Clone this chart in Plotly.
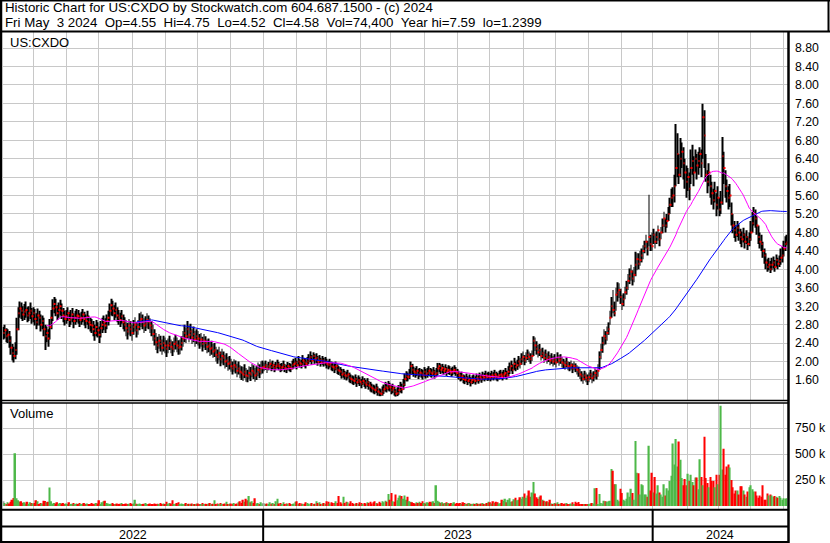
import pandas as pd
import plotly.graph_objects as go

# ---------------- data ----------------
LAST_DATE = "2024-05-03"
SYMBOL = "US:CXDO"
HEADER_LINE1 = "Historic Chart for US:CXDO by Stockwatch.com 604.687.1500 - (c) 2024"
HEADER_LINE2 = "Fri May  3 2024  Op=4.55  Hi=4.75  Lo=4.52  Cl=4.58  Vol=74,400  Year hi=7.59  lo=1.2399"

CLOSE = [
    2.62, 2.68, 2.55, 2.58, 2.45, 2.30, 2.18, 2.12, 2.25, 2.70,
    3.05, 3.15, 3.10, 3.02, 3.08, 3.12, 3.00, 3.05, 3.10, 2.98,
    3.05, 2.92, 2.85, 3.00, 2.95, 2.80, 2.88, 2.70, 2.55, 2.62,
    2.50, 2.75, 2.95, 3.15, 3.25, 3.18, 3.05, 3.12, 3.20, 3.10,
    3.00, 2.92, 2.98, 3.05, 2.90, 2.95, 3.02, 2.88, 2.95, 3.00,
    2.98, 2.90, 2.95, 3.02, 2.92, 2.88, 2.96, 2.85, 2.80, 2.78,
    2.70, 2.62, 2.75, 2.68, 2.58, 2.72, 2.80, 2.85, 2.78, 2.88,
    2.95, 3.10, 3.22, 3.15, 3.05, 3.12, 3.00, 2.95, 2.90, 2.98,
    2.85, 2.80, 2.72, 2.65, 2.78, 2.70, 2.62, 2.75, 2.80, 2.68,
    2.75, 2.88, 2.92, 2.85, 2.78, 2.82, 2.90, 2.85, 2.78, 2.72,
    2.60, 2.50, 2.42, 2.35, 2.45, 2.38, 2.30, 2.40, 2.35, 2.28,
    2.35, 2.40, 2.32, 2.28, 2.38, 2.42, 2.35, 2.30, 2.32, 2.40,
    2.50, 2.62, 2.55, 2.70, 2.58, 2.65, 2.52, 2.60, 2.48, 2.55,
    2.50, 2.42, 2.48, 2.38, 2.45, 2.40, 2.32, 2.35, 2.28, 2.30,
    2.22, 2.25, 2.15, 2.10, 2.18, 2.05, 2.12, 2.08, 2.00, 2.02,
    1.95, 1.98, 1.90, 1.85, 1.92, 1.88, 1.80, 1.85, 1.78, 1.75,
    1.72, 1.78, 1.70, 1.68, 1.75, 1.72, 1.80, 1.76, 1.70, 1.74, 1.82, 1.78, 1.85, 1.88,
    1.88, 1.92, 1.85, 1.90, 1.95, 1.88, 1.92, 1.86, 1.90, 1.94,
    1.90, 1.85, 1.88, 1.92, 1.86, 1.84, 1.90, 1.88, 1.85, 1.92,
    1.95, 1.98, 1.92, 2.00, 1.96, 1.94, 2.02, 1.98, 1.95, 2.00,
    2.05, 2.10, 2.02, 2.12, 2.05, 2.08, 2.00, 2.04, 1.98, 2.02,
    1.98, 2.00, 1.95, 1.92, 1.96, 1.90, 1.88, 1.85, 1.90, 1.82,
    1.80, 1.78, 1.72, 1.75, 1.70, 1.68, 1.72, 1.65, 1.62, 1.60,
    1.58, 1.62, 1.55, 1.60, 1.56, 1.52, 1.58, 1.54, 1.50, 1.55,
    1.48, 1.45, 1.42, 1.40, 1.38, 1.42, 1.35, 1.32, 1.30, 1.35,
    1.40, 1.45, 1.42, 1.48, 1.44, 1.38, 1.42, 1.35, 1.30, 1.32,
    1.38, 1.45, 1.40, 1.50, 1.62, 1.68, 1.66, 1.72, 1.90, 1.82,
    1.78, 1.75, 1.80, 1.72, 1.76, 1.74, 1.70, 1.78, 1.72, 1.75,
    1.80, 1.76, 1.74, 1.78, 1.72, 1.75, 1.85, 1.90, 1.82, 1.86,
    1.80, 1.84, 1.78, 1.82, 1.80, 1.76, 1.79, 1.82, 1.78, 1.75,
    1.70, 1.65, 1.68, 1.62, 1.60, 1.64, 1.58, 1.62, 1.55, 1.60,
    1.62, 1.58, 1.64, 1.60, 1.66, 1.62, 1.68, 1.65, 1.70, 1.66,
    1.68, 1.65, 1.70, 1.67, 1.72, 1.68, 1.65, 1.70, 1.72, 1.68,
    1.72, 1.75, 1.70, 1.78, 1.85, 1.90, 1.82, 1.95, 1.88, 1.92,
    2.00, 1.95, 2.05, 2.10, 2.02, 2.08, 2.15, 2.10, 2.05, 2.12,
    2.45, 2.35, 2.28, 2.20, 2.25, 2.12, 2.18, 2.08, 2.15, 2.05,
    2.10, 2.02, 2.06, 2.00, 2.04, 1.98, 2.08, 2.02, 2.05, 1.98,
    1.95, 1.92, 1.98, 1.90, 1.88, 1.92, 1.85, 1.90, 1.86, 1.82,
    1.78, 1.72, 1.68, 1.62, 1.70, 1.65, 1.60, 1.66, 1.72, 1.64,
    1.68, 1.75, 1.70, 1.80, 2.10, 2.25, 2.40, 2.55, 2.50, 2.62,
    2.70, 2.95, 3.20, 3.12, 3.05, 3.45, 3.50, 3.55, 3.40, 3.25,
    3.35, 3.50, 3.60, 3.75, 3.85, 3.95, 3.80, 3.88, 4.10, 4.22,
    4.12, 4.20, 4.30, 4.40, 4.50, 4.60, 4.45, 4.70, 4.55, 4.50,
    4.75, 4.60, 4.70, 4.85, 4.65, 4.80, 4.95, 5.10, 4.95, 5.05,
    5.20, 5.40, 5.55, 5.60, 5.80, 6.20, 6.50, 6.05, 6.40, 6.55,
    6.30, 6.10, 5.90, 6.00, 5.75, 6.20, 6.35, 6.10, 6.40, 6.25,
    6.35, 6.50, 6.30, 7.30, 6.90, 6.05, 5.90, 6.10, 5.80, 5.65,
    5.50, 5.70, 5.40, 5.55, 5.30, 5.45, 6.45, 6.20, 5.80, 5.70,
    5.55, 5.60, 5.20, 4.95, 4.85, 4.75, 4.90, 4.80, 4.70, 4.65,
    4.75, 4.60, 4.70, 4.55, 4.65, 4.80, 5.00, 5.20, 5.10, 4.95,
    4.70, 4.60, 4.55, 4.40, 4.30, 4.15, 4.05, 4.10, 4.00, 4.10,
    4.15, 4.05, 4.20, 4.12, 4.18, 4.25, 4.30, 4.45, 4.55, 4.58,
]

HIGH = [
    2.75, 2.80, 2.72, 2.70, 2.66, 2.55, 2.38, 2.32, 2.42, 2.95,
    3.18, 3.30, 3.28, 3.20, 3.25, 3.30, 3.18, 3.20, 3.28, 3.16,
    3.18, 3.14, 3.05, 3.15, 3.10, 3.02, 3.00, 2.95, 2.80, 2.76,
    2.70, 2.92, 3.12, 3.35, 3.40, 3.36, 3.22, 3.28, 3.34, 3.26,
    3.16, 3.10, 3.12, 3.18, 3.08, 3.12, 3.16, 3.05, 3.10, 3.14,
    3.12, 3.05, 3.08, 3.14, 3.08, 3.02, 3.10, 3.00, 2.95, 2.92,
    2.88, 2.80, 2.90, 2.85, 2.76, 2.88, 2.95, 3.00, 2.94, 3.02,
    3.10, 3.26, 3.36, 3.32, 3.22, 3.28, 3.18, 3.12, 3.06, 3.12,
    3.02, 2.96, 2.90, 2.84, 2.92, 2.88, 2.80, 2.90, 2.96, 2.86,
    2.90, 3.05, 3.08, 3.02, 2.94, 2.98, 3.05, 3.00, 2.94, 2.88,
    2.80, 2.70, 2.62, 2.54, 2.60, 2.56, 2.48, 2.56, 2.52, 2.46,
    2.50, 2.56, 2.48, 2.44, 2.52, 2.58, 2.52, 2.46, 2.48, 2.55,
    2.66, 2.80, 2.74, 2.88, 2.78, 2.82, 2.70, 2.76, 2.66, 2.70,
    2.66, 2.60, 2.62, 2.54, 2.60, 2.55, 2.48, 2.50, 2.44, 2.45,
    2.38, 2.40, 2.32, 2.26, 2.32, 2.22, 2.28, 2.22, 2.15, 2.18,
    2.10, 2.12, 2.06, 2.00, 2.05, 2.02, 1.95, 2.00, 1.92, 1.90,
    1.88, 1.94, 1.86, 1.82, 1.90, 1.88, 1.95, 1.92, 1.86, 1.90, 1.98, 1.94, 2.00, 2.02,
    1.98, 2.02, 1.95, 1.99, 2.05, 1.98, 2.02, 1.95, 1.99, 2.04,
    1.99, 1.95, 1.97, 2.02, 1.95, 1.93, 1.99, 1.97, 1.95, 2.02,
    2.06, 2.08, 2.02, 2.12, 2.05, 2.04, 2.14, 2.08, 2.05, 2.10,
    2.16, 2.22, 2.14, 2.20, 2.16, 2.18, 2.12, 2.14, 2.08, 2.12,
    2.08, 2.10, 2.06, 2.02, 2.06, 2.00, 1.98, 1.96, 2.00, 1.94,
    1.90, 1.88, 1.84, 1.84, 1.80, 1.78, 1.82, 1.76, 1.72, 1.70,
    1.68, 1.72, 1.66, 1.70, 1.66, 1.62, 1.68, 1.64, 1.60, 1.64,
    1.58, 1.56, 1.52, 1.50, 1.48, 1.52, 1.46, 1.42, 1.40, 1.46,
    1.50, 1.56, 1.52, 1.58, 1.54, 1.49, 1.52, 1.46, 1.40, 1.44,
    1.49, 1.56, 1.52, 1.62, 1.74, 1.79, 1.76, 1.84, 2.00, 1.95,
    1.89, 1.86, 1.90, 1.84, 1.86, 1.84, 1.82, 1.88, 1.84, 1.86,
    1.90, 1.86, 1.84, 1.88, 1.82, 1.86, 1.97, 1.97, 1.94, 1.95,
    1.90, 1.94, 1.88, 1.92, 1.90, 1.86, 1.89, 1.92, 1.88, 1.84,
    1.80, 1.76, 1.78, 1.72, 1.70, 1.74, 1.68, 1.72, 1.66, 1.70,
    1.72, 1.68, 1.74, 1.70, 1.76, 1.72, 1.78, 1.75, 1.80, 1.76,
    1.78, 1.75, 1.80, 1.77, 1.82, 1.78, 1.75, 1.80, 1.82, 1.78,
    1.82, 1.86, 1.80, 1.90, 1.98, 2.02, 1.94, 2.08, 2.00, 2.04,
    2.12, 2.08, 2.18, 2.22, 2.14, 2.20, 2.26, 2.22, 2.18, 2.24,
    2.55, 2.52, 2.44, 2.36, 2.38, 2.28, 2.30, 2.22, 2.26, 2.18,
    2.22, 2.14, 2.18, 2.12, 2.16, 2.10, 2.20, 2.14, 2.16, 2.10,
    2.06, 2.02, 2.09, 2.00, 1.99, 2.02, 1.96, 2.00, 1.96, 1.92,
    1.89, 1.84, 1.79, 1.74, 1.80, 1.76, 1.72, 1.76, 1.82, 1.76,
    1.79, 1.86, 1.82, 1.94, 2.22, 2.38, 2.54, 2.70, 2.66, 2.76,
    2.85, 3.10, 3.40, 3.55, 3.30, 3.60, 3.72, 3.70, 3.58, 3.45,
    3.48, 3.62, 3.75, 3.90, 4.02, 4.10, 3.98, 4.05, 4.38, 4.35,
    4.35, 4.40, 4.45, 4.52, 4.62, 4.75, 4.62, 5.62, 4.75, 4.80,
    4.88, 4.78, 4.82, 4.95, 4.80, 4.92, 5.10, 5.25, 5.10, 5.20,
    5.35, 5.55, 5.75, 5.78, 6.05, 7.15, 6.95, 6.50, 6.85, 6.75,
    6.65, 6.40, 6.25, 6.20, 6.10, 6.60, 6.70, 6.45, 6.60, 6.50,
    6.55, 6.65, 6.60, 7.59, 7.45, 6.50, 6.15, 6.30, 6.05, 5.90,
    5.75, 5.90, 5.65, 5.80, 5.55, 5.70, 6.87, 6.55, 6.15, 5.95,
    5.80, 5.85, 5.45, 5.20, 5.05, 4.95, 5.05, 4.98, 4.88, 4.82,
    4.90, 4.78, 4.85, 4.72, 4.80, 5.05, 5.25, 5.35, 5.30, 5.15,
    4.95, 4.80, 4.75, 4.60, 4.45, 4.35, 4.22, 4.25, 4.18, 4.25,
    4.28, 4.20, 4.32, 4.25, 4.30, 4.45, 4.50, 4.62, 4.72, 4.75,
]

LOW = [
    2.48, 2.50, 2.42, 2.40, 2.30, 2.15, 2.02, 1.98, 2.05, 2.15,
    2.68, 2.95, 2.92, 2.88, 2.90, 2.95, 2.85, 2.88, 2.92, 2.82,
    2.85, 2.78, 2.70, 2.78, 2.78, 2.65, 2.70, 2.55, 2.25, 2.42,
    2.32, 2.48, 2.70, 2.88, 3.05, 2.98, 2.90, 2.95, 3.00, 2.92,
    2.85, 2.78, 2.82, 2.88, 2.75, 2.80, 2.85, 2.72, 2.80, 2.85,
    2.82, 2.75, 2.80, 2.85, 2.78, 2.72, 2.80, 2.70, 2.65, 2.62,
    2.55, 2.45, 2.55, 2.52, 2.40, 2.52, 2.62, 2.68, 2.62, 2.70,
    2.78, 2.88, 3.00, 2.98, 2.90, 2.95, 2.85, 2.80, 2.75, 2.82,
    2.70, 2.65, 2.55, 2.48, 2.58, 2.55, 2.45, 2.58, 2.65, 2.52,
    2.58, 2.68, 2.75, 2.70, 2.62, 2.66, 2.72, 2.70, 2.62, 2.55,
    2.45, 2.35, 2.25, 2.18, 2.28, 2.22, 2.15, 2.22, 2.18, 2.10,
    2.18, 2.25, 2.18, 2.12, 2.20, 2.26, 2.20, 2.15, 2.16, 2.24,
    2.32, 2.42, 2.40, 2.50, 2.42, 2.48, 2.38, 2.42, 2.32, 2.38,
    2.35, 2.28, 2.32, 2.22, 2.30, 2.25, 2.18, 2.20, 2.12, 2.15,
    2.08, 2.10, 2.00, 1.95, 2.02, 1.90, 1.96, 1.92, 1.85, 1.88,
    1.80, 1.83, 1.78, 1.72, 1.78, 1.74, 1.66, 1.72, 1.64, 1.60,
    1.58, 1.64, 1.56, 1.55, 1.62, 1.58, 1.66, 1.62, 1.56, 1.60, 1.68, 1.64, 1.72, 1.74,
    1.79, 1.82, 1.75, 1.81, 1.85, 1.79, 1.83, 1.77, 1.81, 1.85,
    1.81, 1.77, 1.79, 1.83, 1.77, 1.75, 1.81, 1.79, 1.77, 1.83,
    1.85, 1.89, 1.83, 1.91, 1.87, 1.85, 1.92, 1.89, 1.85, 1.91,
    1.95, 1.99, 1.93, 2.01, 1.95, 1.97, 1.91, 1.95, 1.89, 1.93,
    1.89, 1.91, 1.85, 1.83, 1.87, 1.81, 1.79, 1.75, 1.81, 1.73,
    1.71, 1.69, 1.63, 1.65, 1.61, 1.59, 1.63, 1.55, 1.53, 1.51,
    1.49, 1.52, 1.45, 1.51, 1.47, 1.42, 1.49, 1.45, 1.41, 1.45,
    1.39, 1.35, 1.33, 1.31, 1.29, 1.32, 1.26, 1.25, 1.25, 1.26,
    1.30, 1.35, 1.33, 1.37, 1.35, 1.29, 1.32, 1.26, 1.24, 1.25,
    1.28, 1.33, 1.31, 1.39, 1.47, 1.57, 1.57, 1.62, 1.72, 1.73,
    1.67, 1.65, 1.69, 1.62, 1.67, 1.65, 1.61, 1.67, 1.63, 1.65,
    1.69, 1.67, 1.65, 1.69, 1.63, 1.67, 1.71, 1.77, 1.73, 1.75,
    1.71, 1.74, 1.69, 1.73, 1.71, 1.67, 1.70, 1.73, 1.69, 1.65,
    1.61, 1.57, 1.59, 1.53, 1.51, 1.55, 1.49, 1.53, 1.46, 1.51,
    1.53, 1.50, 1.55, 1.52, 1.57, 1.54, 1.59, 1.57, 1.61, 1.58,
    1.59, 1.57, 1.61, 1.59, 1.63, 1.59, 1.57, 1.61, 1.63, 1.59,
    1.63, 1.65, 1.61, 1.67, 1.73, 1.79, 1.73, 1.82, 1.79, 1.82,
    1.89, 1.85, 1.93, 1.99, 1.92, 1.97, 2.03, 1.99, 1.95, 2.01,
    2.12, 2.23, 2.15, 2.09, 2.12, 2.02, 2.07, 1.97, 2.03, 1.95,
    1.99, 1.92, 1.95, 1.89, 1.93, 1.87, 1.97, 1.91, 1.95, 1.87,
    1.85, 1.82, 1.87, 1.81, 1.79, 1.82, 1.75, 1.81, 1.77, 1.72,
    1.67, 1.62, 1.57, 1.52, 1.59, 1.55, 1.49, 1.55, 1.61, 1.53,
    1.57, 1.63, 1.61, 1.67, 1.82, 2.05, 2.19, 2.35, 2.37, 2.45,
    2.58, 2.80, 2.95, 3.05, 2.98, 3.10, 3.30, 3.38, 3.25, 3.12,
    3.20, 3.35, 3.45, 3.55, 3.68, 3.75, 3.65, 3.72, 3.85, 3.98,
    4.00, 4.08, 4.15, 4.22, 4.35, 4.45, 4.30, 4.50, 4.40, 4.40,
    4.55, 4.45, 4.55, 4.62, 4.50, 4.65, 4.78, 4.92, 4.80, 4.90,
    5.05, 5.20, 5.35, 5.35, 5.45, 5.80, 6.00, 5.85, 6.00, 6.20,
    5.95, 5.75, 5.55, 5.70, 5.50, 5.85, 6.05, 5.80, 6.10, 5.95,
    6.05, 6.20, 6.00, 6.40, 6.20, 5.90, 5.65, 5.80, 5.55, 5.40,
    5.30, 5.45, 5.15, 5.30, 5.15, 5.20, 5.40, 5.85, 5.55, 5.45,
    5.30, 5.35, 4.95, 4.78, 4.68, 4.60, 4.70, 4.62, 4.55, 4.48,
    4.58, 4.45, 4.55, 4.42, 4.50, 4.62, 4.80, 4.95, 4.90, 4.75,
    4.55, 4.45, 4.40, 4.25, 4.12, 4.00, 3.95, 3.98, 3.92, 3.98,
    4.02, 3.95, 4.05, 4.00, 4.05, 4.10, 4.15, 4.28, 4.40, 4.52,
]

VOLUME_K = [
    45, 30, 20, 35, 25, 40, 60, 77, 508, 75,
    55, 40, 45, 30, 35, 25, 40, 20, 35, 30,
    25, 30, 55, 45, 20, 30, 25, 50, 48, 35,
    40, 177, 45, 20, 30, 25, 35, 18, 28, 22,
    30, 15, 25, 20, 35, 18, 22, 30, 15, 25,
    20, 28, 15, 22, 30, 18, 25, 20, 15, 28,
    22, 18, 30, 25, 55, 20, 35, 45, 50, 30,
    25, 18, 22, 30, 15, 20, 25, 18, 22, 28,
    20, 15, 25, 18, 22, 30, 20, 25, 60, 22,
    18, 25, 20, 15, 22, 28, 18, 20, 25, 15,
    20, 25, 18, 22, 15, 30, 20, 25, 18, 40,
    22, 30, 25, 55, 18, 22, 30, 35, 20, 25,
    15, 20, 28, 18, 22, 15, 25, 20, 18, 22,
    25, 18, 20, 28, 15, 22, 20, 25, 30, 18,
    22, 55, 20, 25, 18, 30, 22, 20, 25, 40,
    18, 22, 25, 20, 30, 18, 25, 35, 45, 30,
    60, 40, 70, 55, 95, 35, 45, 30, 75, 25, 30, 20, 35, 25,
    30, 20, 25, 18, 35, 22, 28, 20, 45, 70,
    25, 30, 20, 35, 18, 25, 22, 30, 15, 20,
    25, 40, 45, 20, 30, 25, 18, 22, 35, 28,
    20, 25, 30, 18, 22, 45, 28, 35, 20, 25,
    30, 22, 45, 40, 25, 35, 30, 28, 45, 30,
    95, 35, 25, 90, 30, 40, 35, 25, 45, 30,
    20, 25, 30, 22, 35, 28, 20, 30, 25, 35,
    30, 40, 25, 35, 45, 30, 25, 40, 30, 45,
    35, 50, 40, 115, 60, 125, 45, 40, 110, 55,
    80, 100, 95, 70, 100, 60, 90, 45, 40, 35,
    30, 25, 35, 28, 40, 30, 45, 30, 25, 35,
    30, 40, 35, 45, 30, 200, 50, 40, 30, 35,
    25, 30, 35, 28, 22, 30, 25, 35, 20, 28,
    25, 30, 22, 35, 28, 20, 25, 30, 22, 18,
    25, 20, 30, 22, 18, 25, 28, 20, 22, 30,
    40, 35, 25, 45, 30, 40, 35, 25, 30, 60,
    50, 70, 35, 60, 75, 40, 45, 65, 80, 55,
    60, 85, 70, 90, 120, 80, 100, 150, 90, 130,
    230, 120, 85, 70, 90, 100, 60, 50, 40, 45,
    35, 60, 25, 20, 30, 25, 35, 20, 25, 30,
    20, 25, 30, 20, 18, 25, 35, 20, 40, 30,
    38, 20, 15, 10, 12, 15, 20, 18, 25, 30,
    25, 170, 172, 20, 115, 30, 25, 50, 45, 40,
    45, 50, 355, 340, 210, 210, 60, 45, 165, 125,
    60, 50, 70, 130, 90, 165, 125, 60, 625, 320,
    315, 110, 210, 200, 110, 110, 90, 580, 150, 320,
    130, 280, 120, 200, 130, 110, 90, 210, 100, 170,
    150, 240, 290, 600, 400, 645, 380, 620, 445, 270,
    200, 260, 200, 310, 240, 300, 230, 200, 275, 275,
    160, 450, 280, 200, 665, 270, 220, 180, 280, 240,
    240, 180, 300, 210, 300, 965, 350, 550, 300, 380,
    400, 370, 250, 180, 120, 150, 150, 110, 190, 190,
    150, 110, 90, 140, 180, 200, 160, 140, 140, 100,
    80, 100, 90, 200, 60, 60, 120, 100, 110, 100,
    90, 95, 90, 80, 95, 80, 60, 75, 70, 74.4,
]

PRICE_TICKS = [1.60, 2.00, 2.40, 2.80, 3.20, 3.60, 4.00, 4.40, 4.80, 5.20,
               5.60, 6.00, 6.40, 6.80, 7.20, 7.60, 8.00, 8.40, 8.80]
VOLUME_TICKS = [250000, 500000, 750000]
VOLUME_TICK_TEXT = ["250 k", "500 k", "750 k"]
MA_SHORT, MA_LONG = 30, 90

# ---------------- derived ----------------
N = len(CLOSE)
dates = pd.bdate_range(end=LAST_DATE, periods=N)
idx = list(range(N))
s = pd.Series(CLOSE)
ma_s = s.rolling(MA_SHORT).mean()
ma_l = s.rolling(MA_LONG).mean()
prev = s.shift(1)
GREEN, RED, GREY = "#4DB848", "#FF0000", "#A0A0A0"
vcolors = []
for c, p in zip(CLOSE, prev):
    if pd.isna(p) or c == p:
        vcolors.append(GREY)
    elif c > p:
        vcolors.append(GREEN)
    else:
        vcolors.append(RED)

month_starts = [i for i in range(1, N) if dates[i].month != dates[i - 1].month]
year_starts = [i for i in range(1, N) if dates[i].year != dates[i - 1].year]
year_bounds = [-0.5] + [y - 0.5 for y in year_starts] + [N - 0.5]
year_names = [str(dates[0].year)] + [str(dates[y].year) for y in year_starts]

W, H = 830, 543
def px(x):
    return x / W
def py(y):
    return 1 - y / H

FONT = "Arial, 'Liberation Sans', sans-serif"
GRID = "#C8C8C8"

Y_LO, Y_HI = 1.166, 9.147
TICK_H = 2.0 * (Y_HI - Y_LO) / 368.0   # close mark ~2 px tall

fig = go.Figure()
# high-low bars
fig.add_trace(go.Bar(
    x=idx, y=[h - l for h, l in zip(HIGH, LOW)], base=LOW, width=0.55,
    marker=dict(color="black", line=dict(width=0)),
    xaxis="x", yaxis="y", hoverinfo="skip"))
# close marks (small red ticks at the right side of each bar)
fig.add_trace(go.Bar(
    x=idx, y=[TICK_H] * N, base=[c - TICK_H / 2 for c in CLOSE], width=0.4, offset=0.2,
    marker=dict(color="#FF0000", line=dict(width=0)),
    xaxis="x", yaxis="y", hoverinfo="skip"))
fig.add_trace(go.Scatter(
    x=idx, y=ma_l, mode="lines", line=dict(color="#0000FF", width=1),
    xaxis="x", yaxis="y", hoverinfo="skip"))
fig.add_trace(go.Scatter(
    x=idx, y=ma_s, mode="lines", line=dict(color="#FF00FF", width=1),
    xaxis="x", yaxis="y", hoverinfo="skip"))
fig.add_trace(go.Bar(
    x=idx, y=[v * 1000 for v in VOLUME_K], width=1.0,
    marker=dict(color=vcolors, line=dict(width=0)),
    xaxis="x2", yaxis="y2", hoverinfo="skip"))

x_dom = [px(2.5), px(787.5)]
x_rng = [-0.5, N - 0.5]
xcommon = dict(domain=x_dom, range=x_rng, tickvals=[m - 0.5 for m in month_starts],
               showticklabels=False, ticks="", showgrid=True, gridcolor=GRID, gridwidth=1,
               zeroline=False, showline=False, fixedrange=True)
ycommon = dict(side="right", showgrid=True, gridcolor=GRID, gridwidth=1, zeroline=False,
               showline=False, ticks="outside", ticklen=4, tickcolor="rgba(0,0,0,0)",
               tickfont=dict(family=FONT, size=12.3, color="black"), fixedrange=True)

fig.update_layout(
    width=W, height=H, margin=dict(l=0, r=0, t=0, b=0),
    paper_bgcolor="white", plot_bgcolor="white", showlegend=False,
    barmode="overlay",
    xaxis=dict(anchor="y", **xcommon),
    xaxis2=dict(anchor="y2", matches="x", **xcommon),
    yaxis=dict(anchor="x", domain=[py(400), py(32)], range=[Y_LO, Y_HI],
               tickvals=PRICE_TICKS, tickformat=".2f", **ycommon),
    yaxis2=dict(anchor="x2", domain=[py(509), py(403)], range=[-28846, 990385],
                tickvals=VOLUME_TICKS, ticktext=VOLUME_TICK_TEXT, **ycommon),
)

def hline(y, x0, x1, w):
    return dict(type="line", xref="paper", yref="paper", x0=px(x0), x1=px(x1),
                y0=py(y), y1=py(y), line=dict(color="black", width=w))
def vline(x, y0, y1, w):
    return dict(type="line", xref="paper", yref="paper", x0=px(x), x1=px(x),
                y0=py(y0), y1=py(y1), line=dict(color="black", width=w))

shapes = [
    vline(1, 0, 543, 2.5),          # left frame
    hline(0.75, 0, 830, 1.5),       # top frame
    vline(828.5, 0, 32, 2),         # right edge of header box
    hline(542, 0, 789, 2),          # bottom frame
    hline(31.5, 0, 830, 2),         # under header
    vline(788.5, 31, 543, 2.5),     # right axis separator
    hline(400.5, 0, 788, 1.3),      # double line between panels
    hline(403, 0, 788, 1.3),
    hline(509.8, 0, 788, 2),        # under volume
    hline(526.5, 0, 788, 2),        # above year row
]
for ys in year_starts:
    shapes.append(dict(type="line", xref="x", yref="paper", x0=ys - 0.5, x1=ys - 0.5,
                       y0=py(510), y1=py(542), line=dict(color="black", width=2)))
fig.update_layout(shapes=shapes)

def nb(t):
    return t.replace("  ", " \u00a0")

ann = [
    dict(text=nb(HEADER_LINE1), x=px(3), y=py(8), xref="paper", yref="paper",
         xanchor="left", yanchor="middle", showarrow=False,
         font=dict(family=FONT, size=13.3, color="black")),
    dict(text=nb(HEADER_LINE2), x=px(3), y=py(22), xref="paper", yref="paper",
         xanchor="left", yanchor="middle", showarrow=False,
         font=dict(family=FONT, size=13.3, color="black")),
    dict(text=SYMBOL, x=px(8), y=py(42), xref="paper", yref="paper",
         xanchor="left", yanchor="middle", showarrow=False,
         font=dict(family=FONT, size=13, color="black")),
    dict(text="Volume", x=px(8), y=py(413.5), xref="paper", yref="paper",
         xanchor="left", yanchor="middle", showarrow=False,
         font=dict(family=FONT, size=13, color="black")),
]
for k, name in enumerate(year_names):
    mid = (year_bounds[k] + year_bounds[k + 1]) / 2
    ann.append(dict(text=name, x=mid, y=py(534.5), xref="x", yref="paper",
                    xanchor="center", yanchor="middle", showarrow=False,
                    font=dict(family=FONT, size=12.5, color="black")))
fig.update_layout(annotations=ann)

fig.write_html("out.html", config={"displayModeBar": False},
               post_script="document.body.style.margin='0';document.body.style.overflow='hidden';")
